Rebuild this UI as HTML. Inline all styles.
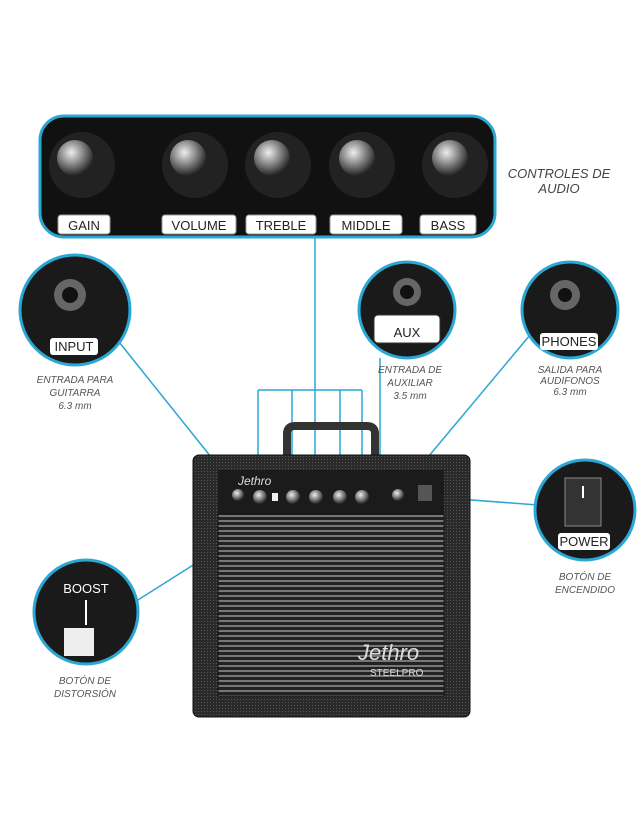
<!DOCTYPE html>
<html><head><meta charset="utf-8"><style>
html,body{margin:0;padding:0;background:#fff;}
svg{display:block;}
text{font-family:"Liberation Sans",sans-serif;}
.cap{font-style:italic;fill:#555;font-size:10px;text-anchor:middle;}
.lab{font-size:13px;fill:#222;text-anchor:middle;}
</style></head><body>
<svg width="639" height="826" viewBox="0 0 639 826" xmlns="http://www.w3.org/2000/svg">
<defs>
<radialGradient id="kn" cx="40%" cy="35%" r="65%"><stop offset="0" stop-color="#eee"/><stop offset="0.5" stop-color="#888"/><stop offset="1" stop-color="#222"/></radialGradient>
<pattern id="gr" width="4" height="5" patternUnits="userSpaceOnUse"><rect width="4" height="5" fill="#222"/><rect y="0" width="4" height="2" fill="#777"/></pattern>
<pattern id="tol" width="3" height="3" patternUnits="userSpaceOnUse"><rect width="3" height="3" fill="#2a2a2a"/><rect width="1" height="1" fill="#555"/></pattern>
</defs>
<!-- connectors -->
<g stroke="#2aa7d4" stroke-width="1.5" fill="none">
<line x1="315" y1="237" x2="315" y2="390"/>
<line x1="258" y1="390" x2="362" y2="390"/>
<line x1="258" y1="390" x2="258" y2="488"/>
<line x1="292" y1="390" x2="292" y2="488"/>
<line x1="315" y1="390" x2="315" y2="488"/>
<line x1="340" y1="390" x2="340" y2="488"/>
<line x1="362" y1="390" x2="362" y2="488"/>
<line x1="380" y1="358" x2="380" y2="490"/>
<line x1="115" y1="337" x2="235" y2="487"/>
<line x1="530" y1="335" x2="403" y2="487"/>
<line x1="538" y1="505" x2="432" y2="497"/>
<line x1="130" y1="605" x2="280" y2="510"/>
</g>
<!-- top panel -->
<rect x="40" y="116" width="455" height="121" rx="24" fill="#111" stroke="#2aa7d4" stroke-width="3"/>
<g>
<circle cx="82" cy="165" r="33" fill="#222"/><circle cx="75" cy="158" r="18" fill="url(#kn)"/>
<circle cx="195" cy="165" r="33" fill="#222"/><circle cx="188" cy="158" r="18" fill="url(#kn)"/>
<circle cx="278" cy="165" r="33" fill="#222"/><circle cx="272" cy="158" r="18" fill="url(#kn)"/>
<circle cx="362" cy="165" r="33" fill="#222"/><circle cx="357" cy="158" r="18" fill="url(#kn)"/>
<circle cx="455" cy="165" r="33" fill="#222"/><circle cx="450" cy="158" r="18" fill="url(#kn)"/>
</g>
<g fill="#fff" stroke="#999" stroke-width="1">
<rect x="58" y="215" width="52" height="19" rx="3"/>
<rect x="162" y="215" width="74" height="19" rx="3"/>
<rect x="246" y="215" width="70" height="19" rx="3"/>
<rect x="330" y="215" width="72" height="19" rx="3"/>
<rect x="420" y="215" width="56" height="19" rx="3"/>
</g>
<text class="lab" x="84" y="230">GAIN</text>
<text class="lab" x="199" y="230">VOLUME</text>
<text class="lab" x="281" y="230">TREBLE</text>
<text class="lab" x="366" y="230">MIDDLE</text>
<text class="lab" x="448" y="230">BASS</text>
<text x="559" y="178" text-anchor="middle" font-style="italic" font-size="13" fill="#444">CONTROLES DE</text>
<text x="559" y="193" text-anchor="middle" font-style="italic" font-size="13" fill="#444">AUDIO</text>
<!-- circles -->
<g stroke="#2aa7d4" stroke-width="3" fill="#1a1a1a">
<circle cx="75" cy="310" r="55"/>
<circle cx="407" cy="310" r="48"/>
<circle cx="570" cy="310" r="48"/>
<circle cx="585" cy="510" r="50"/>
<circle cx="86" cy="612" r="52"/>
</g>
<circle cx="70" cy="295" r="16" fill="#666"/><circle cx="70" cy="295" r="8" fill="#111"/>
<rect x="50" y="338" width="48" height="17" rx="3" fill="#fff"/><text x="74" y="351" class="lab" font-size="11">INPUT</text>
<circle cx="407" cy="292" r="14" fill="#666"/><circle cx="407" cy="292" r="7" fill="#111"/>
<rect x="374" y="315" width="66" height="28" rx="4" fill="#fff" stroke="#333"/><text x="407" y="337" class="lab" font-size="21">AUX</text>
<circle cx="565" cy="295" r="15" fill="#666"/><circle cx="565" cy="295" r="7" fill="#111"/>
<rect x="540" y="333" width="58" height="17" rx="3" fill="#fff"/><text x="569" y="346" class="lab" font-size="11">PHONES</text>
<rect x="565" y="478" width="36" height="48" fill="#333" stroke="#888"/><line x1="583" y1="486" x2="583" y2="498" stroke="#fff" stroke-width="2"/>
<rect x="558" y="533" width="52" height="17" rx="3" fill="#fff"/><text x="584" y="546" class="lab" font-size="11">POWER</text>
<text x="86" y="593" class="lab" fill="#fff" font-size="14" style="fill:#fff">BOOST</text>
<line x1="86" y1="600" x2="86" y2="625" stroke="#fff" stroke-width="2"/>
<rect x="64" y="628" width="30" height="28" fill="#eee"/>
<!-- captions -->
<text class="cap" x="75" y="383">ENTRADA PARA</text><text class="cap" x="75" y="396">GUITARRA</text><text class="cap" x="75" y="409">6.3 mm</text>
<text class="cap" x="410" y="373">ENTRADA DE</text><text class="cap" x="410" y="386">AUXILIAR</text><text class="cap" x="410" y="399">3.5 mm</text>
<text class="cap" x="570" y="373">SALIDA PARA</text><text class="cap" x="570" y="384">AUDIFONOS</text><text class="cap" x="570" y="395">6.3 mm</text>
<text class="cap" x="585" y="580">BOTÓN DE</text><text class="cap" x="585" y="593">ENCENDIDO</text>
<text class="cap" x="85" y="684">BOTÓN DE</text><text class="cap" x="85" y="697">DISTORSIÓN</text>
<!-- amp -->
<path d="M287 456 v-22 q0-8 8-8 h72 q8 0 8 8 v22" fill="none" stroke="#333" stroke-width="8"/>
<rect x="193" y="455" width="277" height="262" rx="6" fill="url(#tol)" stroke="#111"/>
<rect x="218" y="470" width="226" height="44" fill="#1b1b1b"/>
<text x="238" y="485" font-style="italic" font-size="12" fill="#ddd">Jethro</text>
<g fill="url(#kn)"><circle cx="238" cy="495" r="6"/><circle cx="260" cy="497" r="7"/><circle cx="293" cy="497" r="7"/><circle cx="316" cy="497" r="7"/><circle cx="340" cy="497" r="7"/><circle cx="362" cy="497" r="7"/><circle cx="398" cy="495" r="6"/></g>
<rect x="272" y="493" width="6" height="8" fill="#eee"/>
<rect x="418" y="485" width="14" height="16" fill="#555"/>
<rect x="218" y="514" width="226" height="182" fill="url(#gr)" stroke="#111"/>
<text x="358" y="660" font-style="italic" font-size="22" font-family="Liberation Serif" fill="#ddd">Jethro</text>
<text x="370" y="676" font-size="10" fill="#ddd">STEELPRO</text>
</svg>
</body></html>
